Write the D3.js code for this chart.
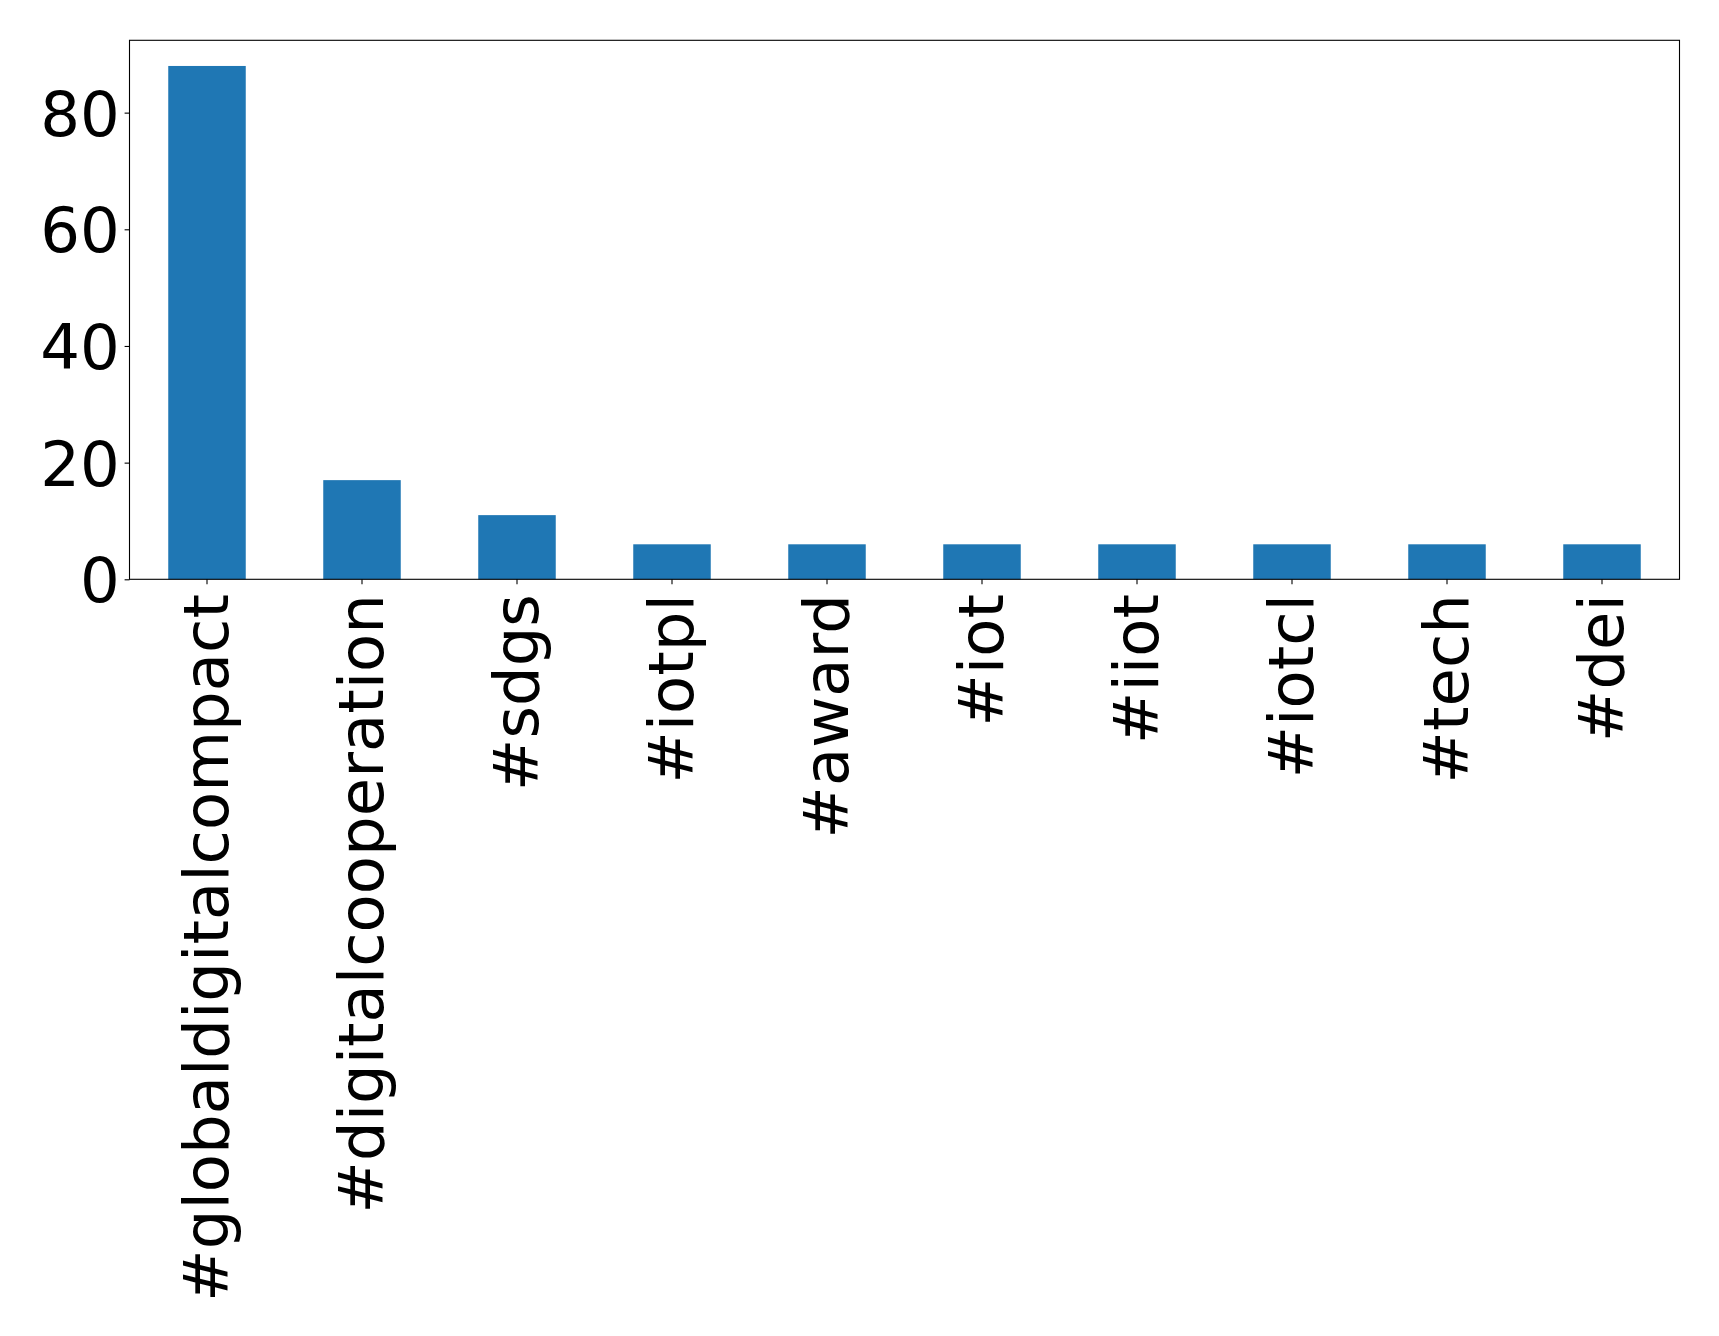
<!DOCTYPE html>
<html>
<head>
<meta charset="utf-8">
<script src="https://cdn.jsdelivr.net/npm/d3@7"></script>
<style>
  html, body { margin: 0; padding: 0; background: #ffffff; }
  svg { display: block; }
</style>
</head>
<body>
<script>
const categories = ["#globaldigitalcompact", "#digitalcooperation", "#sdgs", "#iotpl", "#award", "#iot", "#iiot", "#iotcl", "#tech", "#dei"];
const values = [88, 17, 11, 6, 6, 6, 6, 6, 6, 6];
const yTicks = [0, 20, 40, 60, 80];

(function () {
const W = 1719, H = 1336;
const mLeft = 129.5, mRight = 1679.5, mTop = 40.3, mBottom = 579.3;
const fontSize = 62.5;
const tickLen = 4.9, tickPad = 4.9;

const svg = d3.select("body").append("svg")
  .attr("width", W).attr("height", H)
  .style("font-family", "'DejaVu Sans', sans-serif");

const x = d3.scaleBand().domain(categories).range([mLeft, mRight]).paddingInner(0.5).paddingOuter(0.25);
const yMax = d3.max(values) * 1.05;
const y = d3.scaleLinear().domain([0, yMax]).range([mBottom, mTop]);

// bars
svg.append("g").selectAll("rect").data(categories).join("rect")
  .attr("x", d => x(d))
  .attr("width", x.bandwidth())
  .attr("y", (d, i) => y(values[i]))
  .attr("height", (d, i) => y(0) - y(values[i]))
  .attr("fill", "#1f77b4");

// y axis
const yAxis = svg.append("g").attr("transform", `translate(${mLeft},0)`)
  .call(d3.axisLeft(y).tickValues(yTicks).tickSize(tickLen).tickPadding(tickPad).tickFormat(d3.format("d")));
yAxis.select(".domain").remove();
yAxis.selectAll(".tick line").attr("stroke", "#000").attr("stroke-width", 1.1);
yAxis.selectAll(".tick text").attr("font-size", fontSize).attr("fill", "#000")
  .attr("font-family", "'DejaVu Sans', sans-serif").attr("dy", "0.36em");

// x axis
const xAxis = svg.append("g").attr("transform", `translate(0,${mBottom})`)
  .call(d3.axisBottom(x).tickSize(tickLen).tickPadding(tickPad));
xAxis.select(".domain").remove();
xAxis.selectAll(".tick line").attr("stroke", "#000").attr("stroke-width", 1.1);
xAxis.selectAll(".tick text")
  .attr("font-size", fontSize).attr("fill", "#000")
  .attr("font-family", "'DejaVu Sans', sans-serif")
  .attr("text-anchor", "end")
  .attr("transform", `translate(0,${tickLen + tickPad + 5}) rotate(-90)`)
  .attr("x", 0).attr("y", 0).attr("dy", "0.33em");

// frame
svg.append("rect")
  .attr("x", mLeft).attr("y", mTop)
  .attr("width", mRight - mLeft).attr("height", mBottom - mTop)
  .attr("fill", "none").attr("stroke", "#000").attr("stroke-width", 1.1);
})();
</script>
</body>
</html>
